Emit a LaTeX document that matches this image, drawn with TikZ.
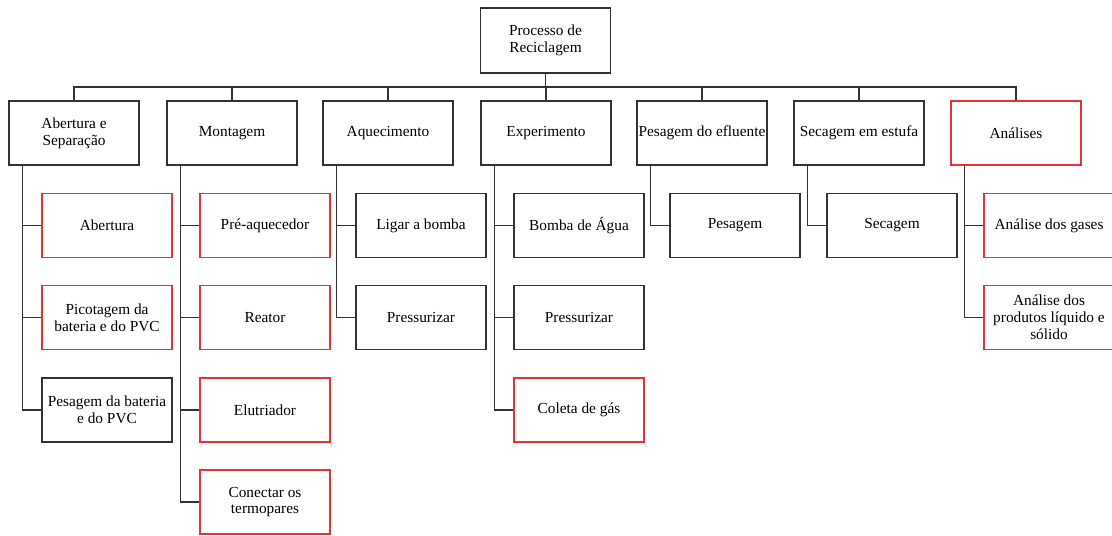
\documentclass[tikz,border=0pt]{standalone}
\usepackage{fontspec}
\setmainfont{Liberation Serif}
\usetikzlibrary{positioning}
\definecolor{linegray}{RGB}{50,50,50}
\definecolor{boxred}{RGB}{228,52,58}

\begin{document}
\begin{tikzpicture}[x=0.025cm,y=-0.025cm,line width=1pt,
  font=\fontsize{10.9}{12}\selectfont,
  box/.style={draw=linegray,minimum width=3.25cm,minimum height=1.6cm,inner sep=1pt,align=center},
  redbox/.style={box,draw=boxred},
  link/.style={draw=linegray}]
\useasboundingbox (0,0) rectangle (1112,535);
% topo
\node[box,minimum height=1.625cm] (proc) at (545.5,40.5) {Processo de\\Reciclagem};
\coordinate (bus) at (545.5,87);
% etapas
\node[box] (abert) at (74,133) {Abertura e\\Separação};
\node[box] (mont) at (232,133) {Montagem};
\node[box] (aquec) at (388,133) {Aquecimento};
\node[box] (exper) at (546,133) {Experimento};
\node[box] (pesef) at (702,133) {Pesagem do efluente};
\node[box] (secag) at (859,133) {Secagem em estufa};
\node[redbox] (anal) at (1016,133) {Análises};
% subetapas
\node[redbox] (abert1) at (107,225.5) {Abertura};
\node[redbox] (abert2) at (107,317.5) {Picotagem da\\bateria e do PVC};
\node[box] (abert3) at (107,410) {Pesagem da bateria\\e do PVC};
\node[redbox] (mont1) at (265,225.5) {Pré-aquecedor};
\node[redbox] (mont2) at (265,317.5) {Reator};
\node[redbox] (mont3) at (265,410) {Elutriador};
\node[redbox] (mont4) at (265,502) {Conectar os\\termopares};
\node[box] (aquec1) at (421,225.5) {Ligar a bomba};
\node[box] (aquec2) at (421,317.5) {Pressurizar};
\node[box] (exper1) at (579,225.5) {Bomba de Água};
\node[box] (exper2) at (579,317.5) {Pressurizar};
\node[redbox] (exper3) at (579,410) {Coleta de gás};
\node[box] (pesef1) at (735,225.5) {Pesagem};
\node[box] (secag1) at (892,225.5) {Secagem};
\node[redbox] (anal1) at (1049,225.5) {Análise dos gases};
\node[redbox] (anal2) at (1049,317.5) {Análise dos\\produtos líquido e\\sólido};
% ligacoes
\draw[link] (proc) -- (bus);
\foreach \n in {abert,mont,aquec,exper,pesef,secag,anal}
  \draw[link] (\n.north) |- (bus);
\foreach \n/\c in {abert/abert1,abert/abert2,abert/abert3,
                  mont/mont1,mont/mont2,mont/mont3,mont/mont4,
                  aquec/aquec1,aquec/aquec2,
                  exper/exper1,exper/exper2,exper/exper3,
                  pesef/pesef1,secag/secag1,anal/anal1,anal/anal2}
  \draw[link] ([xshift=0.35cm]\n.south west) |- (\c.west);
\end{tikzpicture}
\end{document}
